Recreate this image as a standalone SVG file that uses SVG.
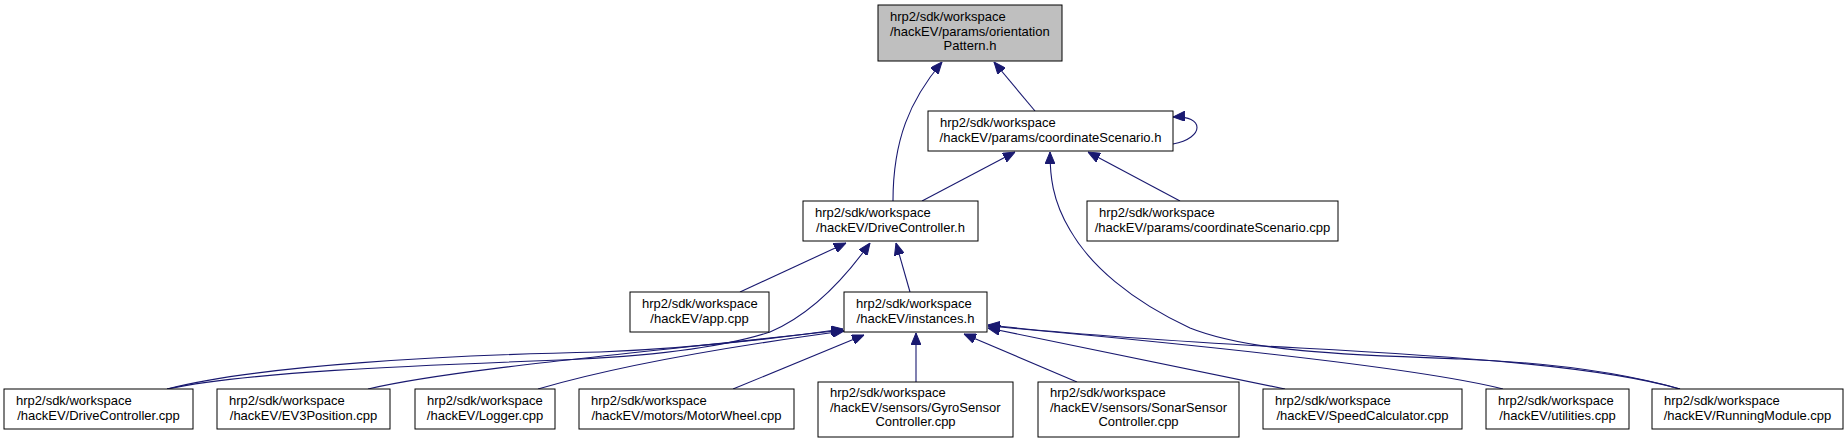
<svg xmlns="http://www.w3.org/2000/svg" width="1848" height="443" viewBox="0 0 1848 443">
<style>
.n rect{fill:#ffffff;stroke:#000000;stroke-width:1}
.n text{font-family:"Liberation Sans",Arial,Helvetica,sans-serif;font-size:13px;fill:#000000}
.n text.c{text-anchor:middle}
#top rect{fill:#bfbfbf}
#edges path{fill:none;stroke:#191970;stroke-width:1.1;marker-end:url(#ah)}
</style>
<defs>
<marker id="ah" markerUnits="userSpaceOnUse" markerWidth="12" markerHeight="10" viewBox="0 0 12 10" refX="12" refY="5" orient="auto">
<path d="M0,0 L12,5 L0,10 z" fill="#191970" stroke="#191970" stroke-width="1"/>
</marker>
</defs>
<rect x="0" y="0" width="1848" height="443" fill="#ffffff"/>
<g id="edges">
<path d="M893,201 C893,140 910,100 942,62"/>
<path d="M1035,111 L994,62"/>
<path d="M1173,144 C1205,138 1205,115 1173,117"/>
<path d="M922,201 L1015,152"/>
<path d="M1180,201 L1088,152"/>
<path d="M1680,389 C1620,372 1540,362 1460,359 C1350,355 1250,352 1190,328 C1130,300 1090,265 1070,230 C1052,200 1050,175 1050,152"/>
<path d="M740,292 L846,243"/>
<path d="M910,292 L896,243"/>
<path d="M167,389 C250,372 400,366 560,360 C660,356 730,345 770,332 C810,315 845,278 870,243"/>
<path d="M167,389 C260,365 450,355 600,352 C700,348 780,338 843,329"/>
<path d="M368,389 C450,370 600,357 843,330"/>
<path d="M538,389 C620,365 740,345 844,331"/>
<path d="M733,389 L864,335"/>
<path d="M916,382 L916,333"/>
<path d="M1077,382 L964,334"/>
<path d="M1285,389 L988,328"/>
<path d="M1503,389 C1420,368 1200,345 988,326"/>
<path d="M1680,389 C1600,366 1450,356 1300,348 C1150,340 1050,332 988,325"/>
</g>
<g id="top" class="n"><rect x="878" y="5" width="184" height="56"/><text x="890" y="21">hrp2/sdk/workspace</text><text x="890" y="36">/hackEV/params/orientation</text><text class="c" x="970" y="50">Pattern.h</text></g>
<g id="coordScenH" class="n"><rect x="928" y="111" width="245" height="40"/><text x="940" y="127">hrp2/sdk/workspace</text><text class="c" x="1050.5" y="142">/hackEV/params/coordinateScenario.h</text></g>
<g id="driveCtrlH" class="n"><rect x="803" y="201" width="175" height="40"/><text x="815" y="217">hrp2/sdk/workspace</text><text class="c" x="890.5" y="232">/hackEV/DriveController.h</text></g>
<g id="coordScenCpp" class="n"><rect x="1087" y="201" width="251" height="40"/><text x="1099" y="217">hrp2/sdk/workspace</text><text class="c" x="1212.5" y="232">/hackEV/params/coordinateScenario.cpp</text></g>
<g id="appCpp" class="n"><rect x="630" y="292" width="139" height="40"/><text x="642" y="308">hrp2/sdk/workspace</text><text class="c" x="699.5" y="323">/hackEV/app.cpp</text></g>
<g id="instancesH" class="n"><rect x="844" y="292" width="143" height="40"/><text x="856" y="308">hrp2/sdk/workspace</text><text class="c" x="915.5" y="323">/hackEV/instances.h</text></g>
<g id="driveCtrlCpp" class="n"><rect x="4" y="389" width="189" height="40"/><text x="16" y="405">hrp2/sdk/workspace</text><text class="c" x="98.5" y="420">/hackEV/DriveController.cpp</text></g>
<g id="ev3Position" class="n"><rect x="217" y="389" width="173" height="40"/><text x="229" y="405">hrp2/sdk/workspace</text><text class="c" x="303.5" y="420">/hackEV/EV3Position.cpp</text></g>
<g id="logger" class="n"><rect x="415" y="389" width="140" height="40"/><text x="427" y="405">hrp2/sdk/workspace</text><text class="c" x="485" y="420">/hackEV/Logger.cpp</text></g>
<g id="motorWheel" class="n"><rect x="579" y="389" width="215" height="40"/><text x="591" y="405">hrp2/sdk/workspace</text><text class="c" x="686.5" y="420">/hackEV/motors/MotorWheel.cpp</text></g>
<g id="gyroSensor" class="n"><rect x="818" y="382" width="195" height="55"/><text x="830" y="397">hrp2/sdk/workspace</text><text x="830" y="412">/hackEV/sensors/GyroSensor</text><text class="c" x="915.5" y="426">Controller.cpp</text></g>
<g id="sonarSensor" class="n"><rect x="1038" y="382" width="201" height="55"/><text x="1050" y="397">hrp2/sdk/workspace</text><text x="1050" y="412">/hackEV/sensors/SonarSensor</text><text class="c" x="1138.5" y="426">Controller.cpp</text></g>
<g id="speedCalc" class="n"><rect x="1263" y="389" width="199" height="40"/><text x="1275" y="405">hrp2/sdk/workspace</text><text class="c" x="1362.5" y="420">/hackEV/SpeedCalculator.cpp</text></g>
<g id="utilities" class="n"><rect x="1486" y="389" width="143" height="40"/><text x="1498" y="405">hrp2/sdk/workspace</text><text class="c" x="1557.5" y="420">/hackEV/utilities.cpp</text></g>
<g id="runningModule" class="n"><rect x="1652" y="389" width="191" height="40"/><text x="1664" y="405">hrp2/sdk/workspace</text><text class="c" x="1747.5" y="420">/hackEV/RunningModule.cpp</text></g>
</svg>
